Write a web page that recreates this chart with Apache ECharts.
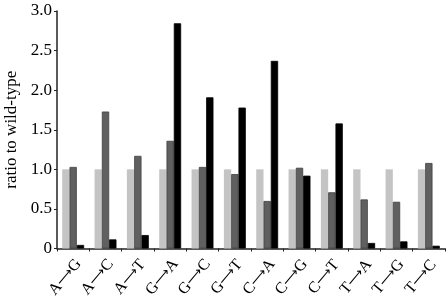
<!DOCTYPE html>
<html><head><meta charset="utf-8">
<script src="https://cdn.jsdelivr.net/npm/echarts@6/dist/echarts.min.js"></script>
<style>html,body{margin:0;padding:0;background:#fff}#c{width:446px;height:298px}</style>
</head><body><div id="c"></div>
<script>
const fromBases = ['A','A','A','G','G','G','C','C','C','T','T','T'];
const toBases   = ['G','C','T','A','C','T','A','G','T','A','G','C'];
const categories = fromBases.map((f,i)=>f+'→'+toBases[i]);
const seriesLight = [1.0,1.0,1.0,1.0,1.0,1.0,1.0,1.0,1.0,1.0,1.0,1.0];
const seriesDark  = [1.03,1.73,1.17,1.36,1.03,0.94,0.60,1.02,0.71,0.62,0.59,1.08];
const seriesBlack = [0.045,0.115,0.17,2.845,1.91,1.78,2.37,0.92,1.58,0.07,0.09,0.035];
const yTicks = [0,0.5,1.0,1.5,2.0,2.5,3.0];

const font = 'Liberation Serif';
const chart = echarts.init(document.getElementById('c'), null, {renderer:'canvas'});
chart.setOption({
  animation:false,
  backgroundColor:'#fff',
  grid:{left:57,right:1,top:11,bottom:49.5,containLabel:false,outerBoundsMode:'none'},
  xAxis:{
    type:'category', data:categories,
    axisLine:{lineStyle:{color:'#222',width:1.5}},
    axisTick:{show:true,length:3,lineStyle:{color:'#222'}},
    axisLabel:{
      rotate:50, margin:19, align:'center', verticalAlign:'middle', interval:0,
      formatter:v=>{const p=v.split('→');return '{a|'+p[0]+'}{r|⟶}{a|'+p[1]+'}{s|}';},
      rich:{
        a:{fontFamily:font,fontSize:16,color:'#000',verticalAlign:'middle'},
        r:{fontFamily:'DejaVu Sans',fontSize:13,color:'#000',verticalAlign:'middle'},
        s:{width:25}
      }
    }
  },
  yAxis:{
    type:'value', min:0, max:3, interval:0.5,
    name:'ratio to wild-type', nameLocation:'middle', nameGap:33,
    nameTextStyle:{fontFamily:font,fontSize:17,color:'#000'},
    splitLine:{show:false},
    axisLine:{show:true,lineStyle:{color:'#222',width:1.5}},
    axisTick:{show:true,length:3,lineStyle:{color:'#222'}},
    axisLabel:{fontFamily:font,fontSize:17,color:'#000',margin:5,
      formatter:v=>v===0?'0':v.toFixed(1)}
  },
  series:[
    {type:'bar',data:seriesLight,barWidth:7.3,barGap:'0%',itemStyle:{color:'#c4c4c4'}},
    {type:'bar',data:seriesDark,barWidth:7.3,barGap:'0%',itemStyle:{color:'#606060',borderColor:'#404040',borderWidth:0.8}},
    {type:'bar',data:seriesBlack,barWidth:7.3,barGap:'0%',itemStyle:{color:'#000',borderColor:'#000',borderWidth:0.8}}
  ]
});
</script></body></html>
